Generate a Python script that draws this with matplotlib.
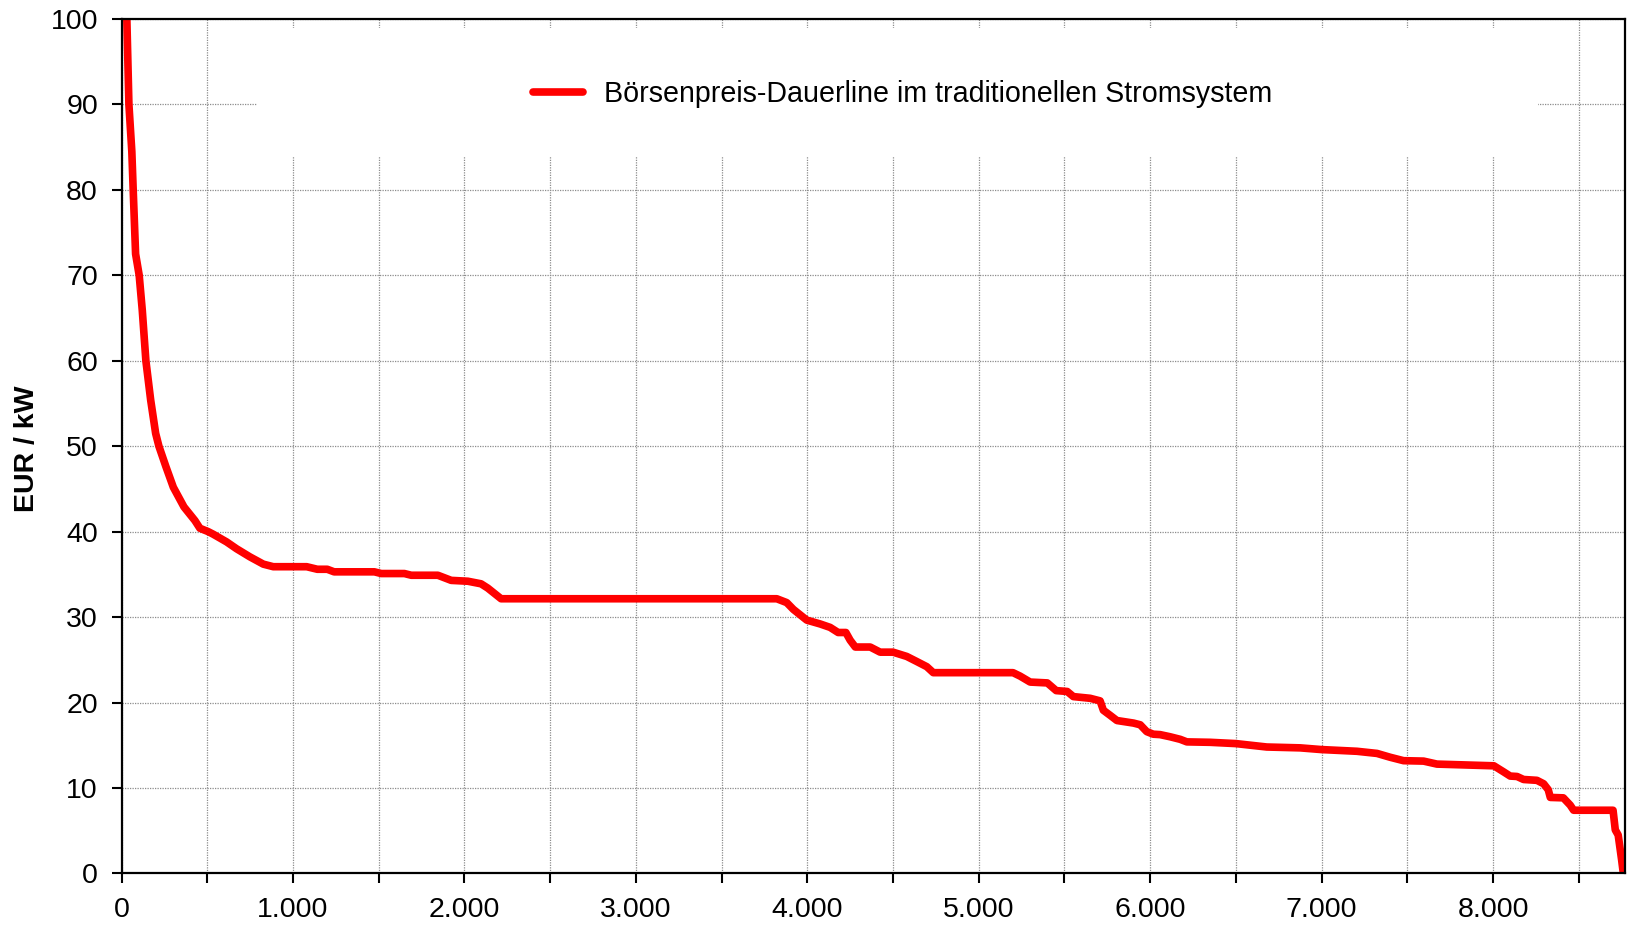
import matplotlib
matplotlib.use("Agg")
import matplotlib.pyplot as plt
from matplotlib.patches import Rectangle
from matplotlib.ticker import MultipleLocator, FuncFormatter

plt.rcParams['font.family'] = ['Liberation Sans', 'DejaVu Sans']

# Data: sorted hours of the year vs. exchange price
hours = [31, 43, 60, 68, 82, 103, 121, 142, 170, 199, 218, 259, 302, 364, 428,
         457, 506, 535, 613, 671, 749, 827, 885, 1080, 1142, 1200, 1240, 1475,
         1515, 1650, 1690, 1845, 1923, 2020, 2097, 2136, 2214, 3822, 3880, 3919,
         3997, 4075, 4133, 4180, 4225, 4250, 4280, 4367, 4425, 4500, 4580, 4639,
         4697, 4735, 5200, 5241, 5300, 5400, 5452, 5516, 5552, 5650, 5708, 5727,
         5767, 5806, 5903, 5942, 5980, 6018, 6058, 6116, 6175, 6214, 6350, 6500,
         6680, 6875, 7000, 7206, 7323, 7400, 7478, 7595, 7673, 8005, 8061, 8100,
         8140, 8178, 8256, 8295, 8322, 8334, 8410, 8450, 8470, 8700, 8713, 8730,
         8750, 8760]
prices = [100, 90, 84.5, 80, 72.5, 70, 65.9, 60, 55.4, 51.5, 50, 47.6, 45.2, 42.9, 41.3,
          40.4, 40.0, 39.7, 38.8, 38.0, 37.05, 36.2, 35.9, 35.9, 35.6, 35.6, 35.3, 35.3,
          35.1, 35.1, 34.9, 34.9, 34.3, 34.2, 33.9, 33.4, 32.15, 32.15, 31.7, 30.9,
          29.65, 29.2, 28.8, 28.2, 28.2, 27.3, 26.5, 26.5, 25.9, 25.9, 25.4, 24.8,
          24.2, 23.5, 23.5, 23.1, 22.4, 22.3, 21.4, 21.3, 20.7, 20.5, 20.2, 19.1,
          18.5, 17.9, 17.6, 17.4, 16.6, 16.3, 16.25, 16.0, 15.7, 15.4, 15.35, 15.2,
          14.8, 14.7, 14.5, 14.3, 14.05, 13.6, 13.2, 13.15, 12.8, 12.6, 11.9, 11.4,
          11.35, 11.0, 10.9, 10.5, 9.8, 8.9, 8.85, 8.0, 7.4, 7.4, 5.1, 4.5,
          1.6, 0.0]

series_label = "Börsenpreis-Dauerline im traditionellen Stromsystem"
y_label = "EUR / kW"

fig = plt.figure(figsize=(16.27, 9.25), dpi=100)
ax = fig.add_axes([0.0747, 0.0557, 0.9241, 0.9238])

ax.set_xlim(0, 8770)
ax.set_ylim(0, 100)

# grid
ax.xaxis.set_major_locator(MultipleLocator(500))
ax.yaxis.set_major_locator(MultipleLocator(10))
ax.grid(True, color='#8c8c8c', linestyle=(0, (1, 1)), linewidth=0.9, zorder=0)
ax.set_axisbelow(True)

# white legend background area (covers grid)
ax.add_patch(Rectangle((0.0901, 0.8397), 0.8519, 0.1498, transform=ax.transAxes,
                       facecolor='white', edgecolor='none', zorder=1))

ln, = ax.plot(hours, prices, color='#ff0000', linewidth=5.5, zorder=3,
              solid_joinstyle='round', solid_capstyle='butt', label=series_label)

def fmt(v, pos):
    v = int(round(v))
    if v % 1000 != 0:
        return ""
    return f"{v:,}".replace(",", ".")

ax.xaxis.set_major_formatter(FuncFormatter(fmt))
ax.tick_params(axis='both', direction='out', length=7, width=1.5, labelsize=20.5,
               colors='black')
ax.tick_params(axis='y', pad=10)
ax.tick_params(axis='x', pad=10)

for s in ax.spines.values():
    s.set_linewidth(1.6)
    s.set_color('black')
    s.set_zorder(4)

ax.set_ylabel(y_label, fontsize=20.5, fontweight='bold')
ax.yaxis.set_label_coords(-0.0543, 0.497)

leg_line = plt.Line2D([], [], color='#ff0000', linewidth=5.5, solid_capstyle='round')
leg = ax.legend([leg_line], [series_label], loc='center left',
                bbox_to_anchor=(0.2737, 0.912), frameon=False, fontsize=20.6,
                handlelength=1.75, handletextpad=0.72, borderpad=0, borderaxespad=0)
leg.set_zorder(5)

fig.savefig("out.png", dpi=100)
